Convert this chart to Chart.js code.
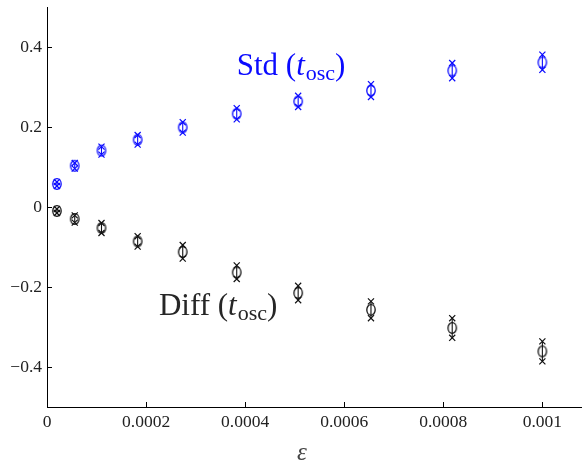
<!DOCTYPE html>
<html>
<head>
<meta charset="utf-8">
<script src="https://cdn.jsdelivr.net/npm/chart.js@4/dist/chart.umd.min.js"></script>
<style>
  html, body { margin: 0; padding: 0; background: #fff; }
  #wrap { width: 582px; height: 461px; }
</style>
</head>
<body>
<div id="wrap"><canvas id="c" width="582" height="461"></canvas></div>
<script>
// Perturbation size ε
const epsilon = [0.00002, 0.000056, 0.00011, 0.000183, 0.000274, 0.000383, 0.000507, 0.000654, 0.000818, 0.001];

// Std(t_osc): mean with upper / lower estimates
const stdMean = [0.0575, 0.103, 0.141, 0.168, 0.199, 0.233, 0.264, 0.291, 0.341, 0.3615];
const stdHigh = [0.0625, 0.110, 0.151, 0.180, 0.212, 0.247, 0.278, 0.307, 0.360, 0.381];
const stdLow  = [0.0525, 0.096, 0.131, 0.156, 0.186, 0.219, 0.250, 0.275, 0.322, 0.343];

// Diff(t_osc): mean with upper / lower estimates
const diffMean = [-0.010, -0.030, -0.0525, -0.086, -0.1125, -0.1635, -0.215, -0.257, -0.3025, -0.361];
const diffHigh = [-0.005, -0.021, -0.040, -0.073, -0.095, -0.146, -0.197, -0.236, -0.278, -0.336];
const diffLow  = [-0.015, -0.039, -0.065, -0.099, -0.129, -0.180, -0.233, -0.278, -0.327, -0.386];

// Axis ticks
const xTicks = [0, 0.0002, 0.0004, 0.0006, 0.0008, 0.001];
const xTickLabels = ['0', '0.0002', '0.0004', '0.0006', '0.0008', '0.001'];
const yTicks = [-0.4, -0.2, 0, 0.2, 0.4];
const yTickLabels = ['\u22120.4', '\u22120.2', '0', '0.2', '0.4'];
const xAxisName = '\u03b5';

const BLUE = '#0a0aff';
const BLACK = '#111111';
const SERIF = "'Liberation Serif', 'Times New Roman', serif";

function pts(ys) { return epsilon.map((x, i) => ({ x: x, y: ys[i] })); }

// open oval marker, a bit taller than wide
function ring(color) {
  const c = document.createElement('canvas');
  c.width = 12; c.height = 14;
  const g = c.getContext('2d');
  g.strokeStyle = color; g.lineWidth = 1.3;
  g.beginPath(); g.ellipse(6, 7, 4.2, 5.3, 0, 0, Math.PI * 2); g.stroke();
  return c;
}

function meanSet(data, color) {
  return { data: pts(data), pointStyle: ring(color), pointRadius: 5, borderColor: color,
           backgroundColor: 'transparent', showLine: false };
}
function crossSet(data, color) {
  return { data: pts(data), pointStyle: 'crossRot', pointRadius: 4.3, borderColor: color,
           borderWidth: 1.2, backgroundColor: color, showLine: false };
}

// vertical stems joining the upper and lower estimates
const stems = {
  id: 'stems',
  beforeDatasetsDraw(chart) {
    const { ctx, scales: { x, y } } = chart;
    [[stdHigh, stdLow, BLUE], [diffHigh, diffLow, BLACK]].forEach(([hi, lo, col]) => {
      ctx.save();
      ctx.strokeStyle = col; ctx.lineWidth = 1.1;
      ctx.beginPath();
      epsilon.forEach((e, i) => {
        const px = x.getPixelForValue(e);
        ctx.moveTo(px, y.getPixelForValue(hi[i]));
        ctx.lineTo(px, y.getPixelForValue(lo[i]));
      });
      ctx.stroke();
      ctx.restore();
    });
  }
};

// inward tick marks and the x-axis name
const innerTicks = {
  id: 'innerTicks',
  afterDraw(chart) {
    const { ctx, chartArea: a, scales: { x, y } } = chart;
    ctx.save();
    ctx.strokeStyle = '#000'; ctx.lineWidth = 1;
    ctx.beginPath();
    xTicks.forEach(v => {
      const px = Math.round(x.getPixelForValue(v)) + 0.5;
      ctx.moveTo(px, a.bottom); ctx.lineTo(px, a.bottom - 5);
    });
    yTicks.forEach(v => {
      const py = Math.round(y.getPixelForValue(v)) + 0.5;
      ctx.moveTo(a.left, py); ctx.lineTo(a.left + 5, py);
    });
    ctx.stroke();
    ctx.font = 'italic 25px ' + SERIF;
    ctx.fillStyle = '#444';
    ctx.textAlign = 'center';
    ctx.textBaseline = 'middle';
    ctx.fillText(xAxisName, a.left + 255, a.bottom + 46);
    ctx.restore();
  }
};

// series names written beside the points
const seriesNames = {
  id: 'seriesNames',
  afterDatasetsDraw(chart) {
    const { ctx, scales: { x, y } } = chart;
    const labels = [
      { name: 'Std', ex: 0.000383, ey: 0.331, color: BLUE },
      { name: 'Diff', ex: 0.000226, ey: -0.270, color: '#262626' }
    ];
    labels.forEach(l => {
      let px = x.getPixelForValue(l.ex);
      const py = y.getPixelForValue(l.ey);
      const parts = [
        { t: l.name + ' (', font: '31px ' + SERIF, dy: 0 },
        { t: 't', font: 'italic 31px ' + SERIF, dy: 0 },
        { t: 'osc', font: '22px ' + SERIF, dy: 5 },
        { t: ')', font: '31px ' + SERIF, dy: 0 }
      ];
      ctx.save();
      ctx.fillStyle = l.color;
      ctx.textBaseline = 'alphabetic';
      ctx.textAlign = 'left';
      parts.forEach(p => {
        ctx.font = p.font;
        ctx.fillText(p.t, px, py + p.dy);
        px += ctx.measureText(p.t).width + (p.t === 't' ? 1 : 0);
      });
      ctx.restore();
    });
  }
};

new Chart(document.getElementById('c'), {
  type: 'scatter',
  data: {
    datasets: [
      meanSet(stdMean, BLUE), crossSet(stdHigh, BLUE), crossSet(stdLow, BLUE),
      meanSet(diffMean, BLACK), crossSet(diffHigh, BLACK), crossSet(diffLow, BLACK)
    ]
  },
  options: {
    responsive: false,
    animation: false,
    events: [],
    layout: { autoPadding: false, padding: { top: 7, right: 0, left: 0, bottom: 0 } },
    plugins: { legend: { display: false }, tooltip: { enabled: false } },
    scales: {
      x: {
        type: 'linear', min: 0, max: 0.00108,
        afterBuildTicks: s => { s.ticks = xTicks.map(v => ({ value: v })); },
        afterFit: s => { s.height = 54; s.paddingLeft = 0; s.paddingRight = 0; },
        grid: { display: false, drawTicks: false },
        border: { display: true, color: '#000', width: 1 },
        ticks: {
          padding: 5, color: '#222', maxRotation: 0, autoSkip: false,
          font: { family: SERIF, size: 17.5 },
          callback: (v) => { const i = xTicks.indexOf(v); return i >= 0 ? xTickLabels[i] : ''; }
        }
      },
      y: {
        type: 'linear', min: -0.5, max: 0.5,
        afterBuildTicks: s => { s.ticks = yTicks.map(v => ({ value: v })); },
        afterFit: s => { s.width = 47; s.paddingTop = 0; s.paddingBottom = 0; },
        grid: { display: false, drawTicks: false },
        border: { display: true, color: '#000', width: 1 },
        ticks: {
          padding: 5, color: '#222', autoSkip: false,
          font: { family: SERIF, size: 17.5 },
          callback: (v) => { const i = yTicks.findIndex(t => Math.abs(t - v) < 1e-9); return i >= 0 ? yTickLabels[i] : ''; }
        }
      }
    }
  },
  plugins: [stems, innerTicks, seriesNames]
});
</script>
</body>
</html>
